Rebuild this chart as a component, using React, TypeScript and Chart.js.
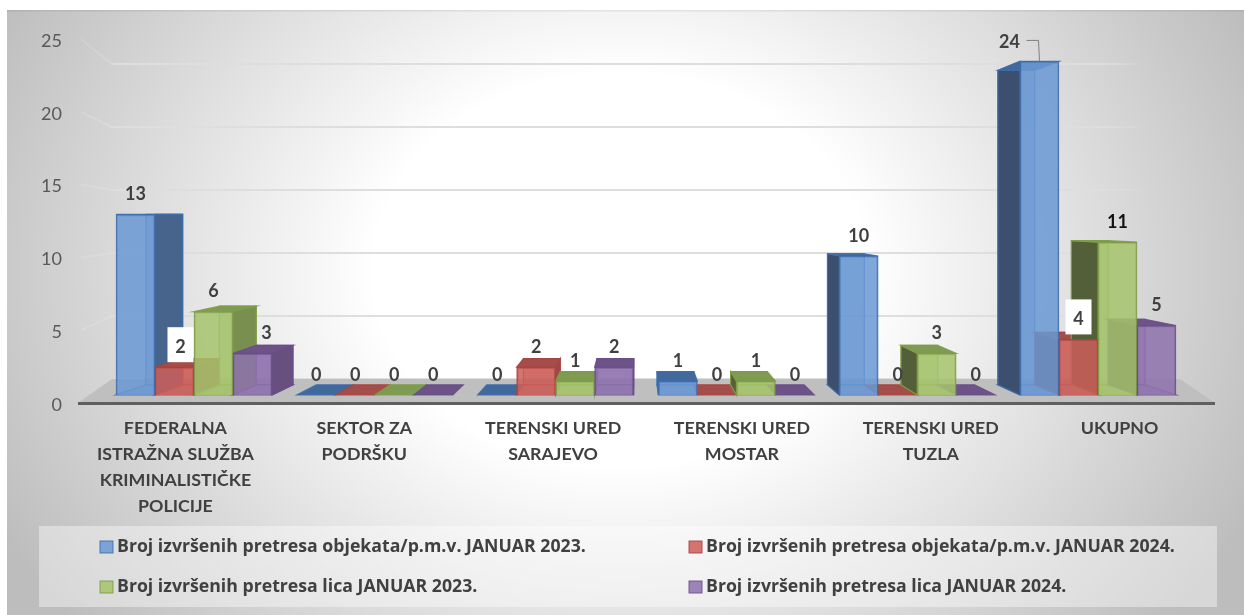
import React, { useEffect, useRef } from "react";
import { Chart, registerables } from "chart.js";

Chart.register(...registerables);

const categories = [
  ["FEDERALNA", "ISTRAŽNA SLUŽBA", "KRIMINALISTIČKE", "POLICIJE"],
  ["SEKTOR ZA", "PODRŠKU"],
  ["TERENSKI URED", "SARAJEVO"],
  ["TERENSKI URED", "MOSTAR"],
  ["TERENSKI URED", "TUZLA"],
  ["UKUPNO"],
];
const seriesNames = [
  "Broj izvršenih pretresa objekata/p.m.v. JANUAR 2023.",
  "Broj izvršenih pretresa objekata/p.m.v. JANUAR 2024.",
  "Broj izvršenih pretresa lica JANUAR 2023.",
  "Broj izvršenih pretresa lica JANUAR 2024.",
];
const objects2023 = [13, 0, 0, 1, 10, 24];
const objects2024 = [2, 0, 2, 0, 0, 4];
const persons2023 = [6, 0, 1, 1, 3, 11];
const persons2024 = [3, 0, 2, 0, 0, 5];
const yTicks = [0, 5, 10, 15, 20, 25];

const FONT = "Lato, 'Open Sans', sans-serif";
const LEGEND_FONT = "'Open Sans', Lato, sans-serif";

const palette = [
  { front: "rgba(106,152,212,0.86)", edge: "rgba(62,110,172,0.9)", top: "#41699c", right: "#46648c", left: "#3c4f6e", back: "rgba(74,120,180,0.35)" },
  { front: "rgba(204,94,90,0.86)", edge: "rgba(170,66,62,0.9)", top: "#a44e4b", right: "#9c4a47", left: "#7a3836", back: "rgba(190,80,76,0.35)" },
  { front: "rgba(165,196,108,0.86)", edge: "rgba(126,156,70,0.9)", top: "#7f9b52", right: "#788f50", left: "#535f38", back: "rgba(140,170,90,0.35)" },
  { front: "rgba(142,114,173,0.86)", edge: "rgba(104,78,136,0.9)", top: "#6e5389", right: "#675080", left: "#4f3d64", back: "rgba(120,92,150,0.35)" },
];

// perspective of the fake 3D boxes
const VX = 636, VY = 217, DEPTH = 0.9425;
const bx = (x: number) => VX + DEPTH * (x - VX);
const by = (y: number) => VY + DEPTH * (y - VY);

function poly(ctx: any, pts: number[][], fill: string, stroke?: string) {
  ctx.beginPath();
  pts.forEach((p, i) => (i ? ctx.lineTo(p[0], p[1]) : ctx.moveTo(p[0], p[1])));
  ctx.closePath();
  ctx.fillStyle = fill;
  ctx.fill();
  if (stroke) {
    ctx.strokeStyle = stroke;
    ctx.lineWidth = 1.2;
    ctx.stroke();
  }
}

const backdrop = {
  id: "backdrop",
  beforeDraw(chart: any) {
    const { ctx, width, height } = chart;
    ctx.save();
    ctx.beginPath();
    ctx.rect(7, 10, width - 7, height - 10);
    ctx.clip();
    ctx.translate(620, 270);
    ctx.scale(1, 0.8);
    const g = ctx.createRadialGradient(0, 0, 0, 0, 0, 700);
    g.addColorStop(0, "#ffffff");
    g.addColorStop(0.35, "#ffffff");
    g.addColorStop(1, "#bdbdbd");
    ctx.fillStyle = g;
    ctx.fillRect(-800, -500, 1700, 1100);
    ctx.restore();
    ctx.fillStyle = "rgba(0,0,0,0.07)";
    ctx.fillRect(7, 10, width - 7, 1.5);
  },
};

const floor = {
  id: "floor",
  beforeDatasetsDraw(chart: any) {
    const { ctx, scales } = chart;
    const front = scales.y.getPixelForValue(0);
    const back = scales.wall.getPixelForValue(0);
    ctx.save();
    // faint diagonals of the left wall
    ctx.strokeStyle = "rgba(255,255,255,0.12)";
    ctx.lineWidth = 2;
    yTicks.slice(1).forEach((v) => {
      ctx.beginPath();
      ctx.moveTo(81, scales.y.getPixelForValue(v));
      ctx.lineTo(112, scales.wall.getPixelForValue(v));
      ctx.stroke();
    });
    poly(ctx, [[78, front], [1215, front], [1180, back], [112, back]], "#bfbfbf");
    ctx.fillStyle = "#5f5f5f";
    ctx.fillRect(78, front - 1, 1137, 3);
    ctx.restore();
  },
};

function drawFaces(ctx: any, meta: any, c: any) {
  meta.data.forEach((bar: any) => {
    const x0 = bar.x - bar.width / 2;
    const x1 = bar.x + bar.width / 2;
    const t = bar.y;
    const b = bar.base;
    if (t < b - 0.5) {
      poly(ctx, [[bx(x0), by(t)], [bx(x1), by(t)], [bx(x1), by(b)], [bx(x0), by(b)]], c.back, c.edge);
      poly(ctx, [[x0, b], [x1, b], [bx(x1), by(b)], [bx(x0), by(b)]], c.back, c.edge);
      if (bx(x0) < x0) poly(ctx, [[x0, t], [bx(x0), by(t)], [bx(x0), by(b)], [x0, b]], c.left, c.edge);
      if (bx(x1) > x1) poly(ctx, [[x1, t], [bx(x1), by(t)], [bx(x1), by(b)], [x1, b]], c.right, c.edge);
    }
    poly(ctx, [[x0, t], [x1, t], [bx(x1), by(t)], [bx(x0), by(t)]], c.top, c.edge);
  });
}

// All receding faces go down first, then every translucent front face in series order.
const boxes = {
  id: "boxes",
  beforeDatasetDraw() {
    return false;
  },
  afterDatasetsDraw(chart: any) {
    const { ctx } = chart;
    const metas = chart.data.datasets.map((_: any, i: number) => chart.getDatasetMeta(i));
    ctx.save();
    metas.forEach((meta: any, i: number) => drawFaces(ctx, meta, palette[i]));
    ctx.restore();
    metas.forEach((meta: any) => meta.controller.draw());
  },
};

// series index -> category index -> horizontal shift of the value label
const labelShift: Record<string, number> = { "3:0": 14, "1:0": 6, "0:5": -30 };
const boxedLabels = ["1:0", "1:5"];

const valueLabels = {
  id: "valueLabels",
  afterDatasetsDraw(chart: any) {
    const { ctx } = chart;
    ctx.save();
    ctx.textAlign = "center";
    ctx.textBaseline = "middle";
    ctx.font = `bold 18px ${FONT}`;
    chart.data.datasets.forEach((ds: any, si: number) => {
      chart.getDatasetMeta(si).data.forEach((bar: any, i: number) => {
        const key = `${si}:${i}`;
        const x = bar.x + (labelShift[key] || 0);
        const y = bar.y - (si === 0 && i === 5 ? 19 : 20);
        if (boxedLabels.includes(key)) {
          ctx.fillStyle = "#ffffff";
          ctx.fillRect(x - 13, y - 20, 26, 35);
        }
        ctx.fillStyle = si === 2 && i === 5 ? "#111111" : "#404040";
        ctx.fillText(String(ds.data[i].y), x, y);
        if (si === 0 && i === 5) {
          ctx.strokeStyle = "#7f7f7f";
          ctx.lineWidth = 1;
          ctx.beginPath();
          ctx.moveTo(x + 17, y - 2);
          ctx.lineTo(x + 29, y - 2);
          ctx.lineTo(x + 30, bar.y);
          ctx.stroke();
        }
      });
    });
    ctx.restore();
  },
};

const legendBand = {
  id: "legendBand",
  afterDraw(chart: any) {
    const { ctx } = chart;
    ctx.save();
    ctx.fillStyle = "rgba(255,255,255,0.4)";
    ctx.fillRect(39, 526, 1178, 81);
    ctx.font = `bold 17.7px ${LEGEND_FONT}`;
    ctx.textBaseline = "middle";
    chart.data.datasets.forEach((ds: any, i: number) => {
      const x = i % 2 ? 689 : 100;
      const y = i < 2 ? 547 : 587;
      const c = palette[i];
      ctx.fillStyle = c.front;
      ctx.fillRect(x, y - 6, 13, 12);
      ctx.strokeStyle = c.edge;
      ctx.lineWidth = 1;
      ctx.strokeRect(x, y - 6, 13, 12);
      ctx.fillStyle = "#404040";
      ctx.fillText(ds.label, x + 17, y);
    });
    ctx.restore();
  },
};

export default function App() {
  const ref = useRef<HTMLCanvasElement | null>(null);
  useEffect(() => {
    const series = [objects2023, objects2024, persons2023, persons2024];
    const chart = new Chart(ref.current as any, {
      type: "bar",
      data: {
        labels: categories as any,
        datasets: series.map((vals, si) => ({
          label: seriesNames[si],
          data: vals.map((v, i) => ({ x: i, y: v })),
          xAxisID: "xBars",
          yAxisID: "yBars",
          backgroundColor: palette[si].front,
          borderColor: palette[si].edge,
          borderWidth: 1.5,
          barThickness: 39,
        })) as any,
      },
      options: {
        animation: false,
        responsive: false,
        layout: { padding: { top: 39, right: 30, left: 0, bottom: 0 } },
        plugins: { legend: { display: false }, tooltip: { enabled: false }, title: { display: false } },
        scales: {
          x: {
            type: "category",
            axis: "x",
            position: "bottom",
            offset: true,
            grid: { display: false },
            border: { display: false },
            afterFit: (s: any) => { s.height = 212; },
            ticks: {
              autoSkip: false,
              maxRotation: 0,
              minRotation: 0,
              padding: 4,
              color: "#404040",
              font: { family: FONT, size: 17.8, weight: "bold", lineHeight: "26px" },
            },
          },
          y: {
            type: "linear",
            axis: "y",
            position: "left",
            min: 0,
            max: 25,
            grid: { display: false, drawTicks: false },
            border: { display: false },
            afterFit: (s: any) => { s.width = 81; },
            ticks: { stepSize: 5, padding: 19, labelOffset: 2, color: "#595959", font: { family: FONT, size: 18 } },
          },
          wall: {
            type: "linear",
            axis: "y",
            position: "right",
            min: -1.905,
            max: 26.984,
            afterFit: (s: any) => { s.width = 0; },
            afterBuildTicks: (s: any) => { s.ticks = yTicks.map((value) => ({ value })); },
            border: { display: false },
            ticks: { display: false },
            grid: {
              drawTicks: false,
              lineWidth: 2,
              color: (c: any) => {
                const g = c.chart.ctx.createLinearGradient(81, 0, 1214, 0);
                g.addColorStop(0.025, "rgba(222,222,222,0)");
                g.addColorStop(0.03, "rgba(222,222,222,1)");
                g.addColorStop(0.9, "rgba(222,222,222,1)");
                g.addColorStop(0.94, "rgba(222,222,222,0)");
                return g;
              },
            },
          },
          xBars: {
            type: "linear",
            axis: "x",
            display: false,
            offset: false,
            min: -0.625,
            max: 5.6416,
            grid: { offset: false },
          },
          yBars: {
            type: "linear",
            axis: "y",
            display: false,
            min: -0.5755,
            max: 25.612,
          },
        },
      } as any,
      plugins: [backdrop, floor, boxes, valueLabels, legendBand],
    });
    return () => chart.destroy();
  }, []);
  return (
    <div style={{ position: "fixed", left: 0, top: 0, width: 1244, height: 615 }}>
      <canvas ref={ref} width={1244} height={615} style={{ display: "block" }} />
    </div>
  );
}
